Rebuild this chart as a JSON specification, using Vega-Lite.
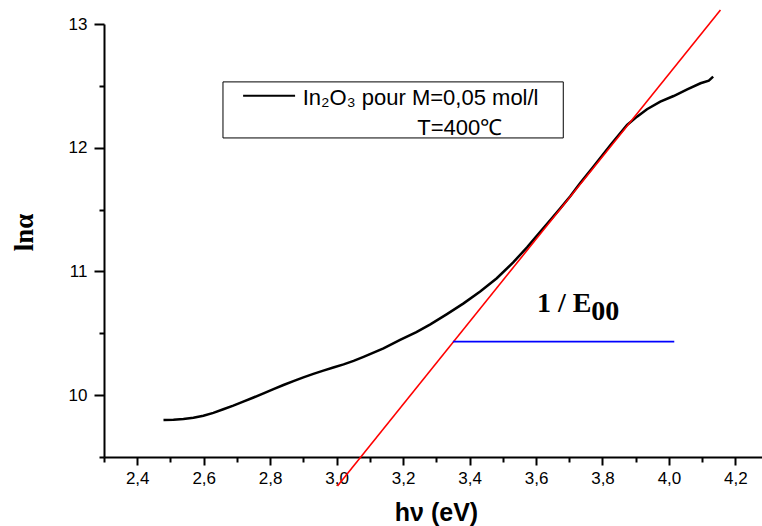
{
  "$schema": "https://vega.github.io/schema/vega-lite/v6.json",
  "width": 658,
  "height": 433,
  "autosize": {"type": "none"},
  "padding": {"left": 104, "top": 24, "right": 0, "bottom": 69},
  "background": "white",
  "config": {
    "view": {"stroke": null},
    "axis": {"grid": false, "domainColor": "black", "tickColor": "black", "labelColor": "black", "titleColor": "black", "domainWidth": 2, "tickWidth": 2, "labelFont": "Liberation Sans", "titleFont": "Liberation Sans"}
  },
  "datasets": {
    "curve": [
      {"hv": 2.479, "lna": 9.800}, {"hv": 2.509, "lna": 9.802}, {"hv": 2.539, "lna": 9.808}, {"hv": 2.569, "lna": 9.818},
      {"hv": 2.599, "lna": 9.834}, {"hv": 2.629, "lna": 9.857}, {"hv": 2.659, "lna": 9.886}, {"hv": 2.689, "lna": 9.915},
      {"hv": 2.719, "lna": 9.947}, {"hv": 2.750, "lna": 9.981}, {"hv": 2.780, "lna": 10.015}, {"hv": 2.810, "lna": 10.049},
      {"hv": 2.840, "lna": 10.082}, {"hv": 2.870, "lna": 10.113}, {"hv": 2.900, "lna": 10.144}, {"hv": 2.930, "lna": 10.172},
      {"hv": 2.960, "lna": 10.198}, {"hv": 2.990, "lna": 10.223}, {"hv": 3.021, "lna": 10.249}, {"hv": 3.051, "lna": 10.277},
      {"hv": 3.081, "lna": 10.309}, {"hv": 3.111, "lna": 10.343}, {"hv": 3.141, "lna": 10.378}, {"hv": 3.166, "lna": 10.412},
      {"hv": 3.191, "lna": 10.446}, {"hv": 3.240, "lna": 10.510}, {"hv": 3.282, "lna": 10.572}, {"hv": 3.332, "lna": 10.655},
      {"hv": 3.382, "lna": 10.742}, {"hv": 3.432, "lna": 10.838}, {"hv": 3.482, "lna": 10.945}, {"hv": 3.532, "lna": 11.075},
      {"hv": 3.573, "lna": 11.195}, {"hv": 3.603, "lna": 11.290}, {"hv": 3.643, "lna": 11.415}, {"hv": 3.673, "lna": 11.510},
      {"hv": 3.703, "lna": 11.608}, {"hv": 3.733, "lna": 11.714}, {"hv": 3.773, "lna": 11.848}, {"hv": 3.824, "lna": 12.022},
      {"hv": 3.874, "lna": 12.184}, {"hv": 3.904, "lna": 12.251}, {"hv": 3.934, "lna": 12.311}, {"hv": 3.974, "lna": 12.372},
      {"hv": 4.014, "lna": 12.418}, {"hv": 4.055, "lna": 12.472}, {"hv": 4.095, "lna": 12.521}, {"hv": 4.120, "lna": 12.542},
      {"hv": 4.133, "lna": 12.574}
    ],
    "fit": [{"hv": 3.0025, "lna": 9.266}, {"hv": 4.155, "lna": 13.113}],
    "gap": [{"x1": 3.35, "x2": 4.016, "y": 10.432}],
    "box": [{"x1": 2.658, "x2": 3.682, "y1": 12.532, "y2": 12.079}],
    "sample": [{"x1": 2.7186, "x2": 2.875, "y": 12.421}],
    "legendText": [
      {"x": 2.898, "y": 12.346, "label": "In₂O₃ pour M=0,05 mol/l"},
      {"x": 3.2425, "y": 12.103, "label": "T=400℃"}
    ],
    "annot": [{"x": 3.603, "y": 10.670, "label": "1 / E"}],
    "annotSub": [{"x": 3.766, "y": 10.607, "label": "00"}]
  },
  "resolve": {"axis": {"x": "independent", "y": "independent"}},
  "layer": [
    {
      "data": {"name": "curve"},
      "mark": {"type": "line", "color": "black", "strokeWidth": 2.5},
      "encoding": {
        "x": {"field": "hv", "type": "quantitative", "scale": {"domain": [2.3, 4.28], "nice": false, "zero": false},
          "axis": {"orient": "bottom", "values": [2.4, 2.6, 2.8, 3.0, 3.2, 3.4, 3.6, 3.8, 4.0, 4.2], "tickSize": 8, "labelFontSize": 17, "labelPadding": 5,
            "labelExpr": "replace(format(datum.value, '.1f'), '.', ',')", "title": "hν (eV)", "titleFontSize": 25, "titleFontWeight": "bold",
            "titleX": 332, "titleY": 63, "titleBaseline": "alphabetic", "titleAnchor": null, "titleAlign": "center"}},
        "y": {"field": "lna", "type": "quantitative", "scale": {"domain": [9.5, 13], "nice": false, "zero": false},
          "axis": {"orient": "left", "values": [10, 11, 12, 13], "tickSize": 10, "labelFontSize": 17, "labelPadding": 7, "title": "lnα",
            "titleFont": "Liberation Serif", "titleFontSize": 27, "titleFontWeight": "bold", "titleX": -72, "titleY": 208, "titleAngle": -90, "titleBaseline": "alphabetic", "titleAlign": "center"}}
      }
    },
    {
      "data": {"name": "fit"},
      "mark": {"type": "line", "color": "#ff0000", "strokeWidth": 1.6},
      "encoding": {
        "x": {"field": "hv", "type": "quantitative", "axis": {"orient": "bottom", "values": [2.3, 2.5, 2.7, 2.9, 3.1, 3.3, 3.5, 3.7, 3.9, 4.1], "tickSize": 5, "labels": false, "domain": false, "title": null}},
        "y": {"field": "lna", "type": "quantitative", "axis": {"orient": "left", "values": [9.5, 10.5, 11.5, 12.5], "tickSize": 5, "labels": false, "domain": false, "title": null}}
      }
    },
    {
      "data": {"name": "gap"},
      "mark": {"type": "rule", "color": "#0000ff", "strokeWidth": 1.8},
      "encoding": {
        "x": {"field": "x1", "type": "quantitative", "axis": null},
        "x2": {"field": "x2"},
        "y": {"field": "y", "type": "quantitative", "axis": null}
      }
    },
    {
      "data": {"name": "box"},
      "mark": {"type": "rect", "fill": "white", "stroke": "black", "strokeWidth": 1},
      "encoding": {
        "x": {"field": "x1", "type": "quantitative", "axis": null},
        "x2": {"field": "x2"},
        "y": {"field": "y1", "type": "quantitative", "axis": null},
        "y2": {"field": "y2"}
      }
    },
    {
      "data": {"name": "sample"},
      "mark": {"type": "rule", "color": "black", "strokeWidth": 2},
      "encoding": {
        "x": {"field": "x1", "type": "quantitative", "axis": null},
        "x2": {"field": "x2"},
        "y": {"field": "y", "type": "quantitative", "axis": null}
      }
    },
    {
      "data": {"name": "legendText"},
      "mark": {"type": "text", "align": "left", "baseline": "alphabetic", "font": "Liberation Sans", "fontSize": 22, "color": "black"},
      "encoding": {
        "x": {"field": "x", "type": "quantitative", "axis": null},
        "y": {"field": "y", "type": "quantitative", "axis": null},
        "text": {"field": "label"}
      }
    },
    {
      "data": {"name": "annot"},
      "mark": {"type": "text", "align": "left", "baseline": "alphabetic", "font": "Liberation Serif", "fontWeight": "bold", "fontSize": 28, "color": "black"},
      "encoding": {
        "x": {"field": "x", "type": "quantitative", "axis": null},
        "y": {"field": "y", "type": "quantitative", "axis": null},
        "text": {"field": "label"}
      }
    },
    {
      "data": {"name": "annotSub"},
      "mark": {"type": "text", "align": "left", "baseline": "alphabetic", "font": "Liberation Serif", "fontWeight": "bold", "fontSize": 28, "color": "black"},
      "encoding": {
        "x": {"field": "x", "type": "quantitative", "axis": null},
        "y": {"field": "y", "type": "quantitative", "axis": null},
        "text": {"field": "label"}
      }
    }
  ]
}
